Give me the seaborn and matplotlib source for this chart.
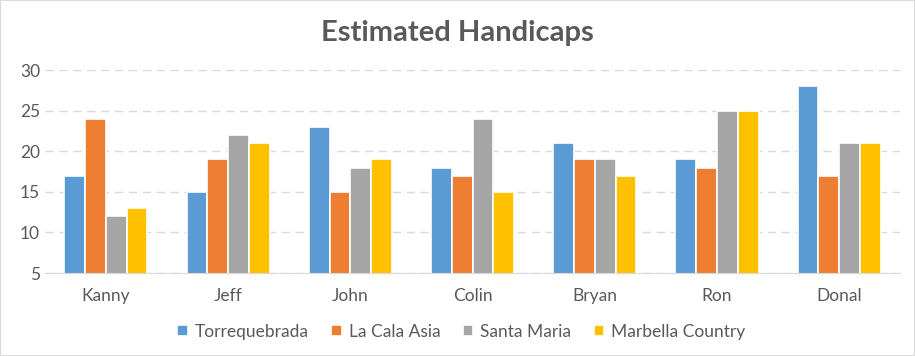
import matplotlib.pyplot as plt
import matplotlib
import seaborn as sns
import pandas as pd

players = ['Kanny', 'Jeff', 'John', 'Colin', 'Bryan', 'Ron', 'Donal']
courses = ['Torrequebrada', 'La Cala Asia', 'Santa Maria', 'Marbella Country']
torrequebrada = [17, 15, 23, 18, 21, 19, 28]
la_cala_asia = [24, 19, 15, 17, 19, 18, 17]
santa_maria = [12, 22, 18, 24, 19, 25, 21]
marbella_country = [13, 21, 19, 15, 17, 25, 21]

sns.set_style('white')
matplotlib.rc('font', family=['Lato', 'DejaVu Sans'], size=12)

rows = []
for course, vals in zip(courses, [torrequebrada, la_cala_asia, santa_maria, marbella_country]):
    for p, v in zip(players, vals):
        rows.append({'player': p, 'course': course, 'handicap': v})
df = pd.DataFrame(rows)

colors = ['#5B9BD5', '#ED7D31', '#A5A5A5', '#FFC000']
grey = '#595959'

fig = plt.figure(figsize=[9.15, 3.56], dpi=100)
ax = fig.add_axes([0.049, 0.233, 0.935, 0.570])

sns.barplot(data=df, x='player', y='handicap', hue='course', palette=colors,
            saturation=1, width=0.68, edgecolor='white', linewidth=1.2, ax=ax, legend=True)

ax.set_ylim(5, 30)
ax.set_yticks([5, 10, 15, 20, 25, 30])
ax.set(xlabel=None, ylabel=None)
ax.yaxis.grid(True, color='#D9D9D9', linestyle=(0, (6, 4)), linewidth=1)
ax.set_axisbelow(True)
for s in ['top', 'right', 'left']:
    ax.spines[s].set_visible(False)
ax.spines['bottom'].set_color('#D9D9D9')
ax.tick_params(axis='both', length=0, colors=grey, labelsize=12.5)
ax.tick_params(axis='x', pad=11)

fig.suptitle('Estimated Handicaps', x=0.5, y=0.945, fontsize=21, fontweight='bold', color=grey)

ax.legend(loc='center', bbox_to_anchor=(0.487, -0.29), ncol=4, frameon=False,
          handlelength=0.6, handleheight=0.6, columnspacing=1.3, handletextpad=0.4,
          labelcolor=grey, fontsize=12.5)

fig.patches.append(matplotlib.patches.Rectangle((0, 0), 1, 1, transform=fig.transFigure,
                                                fill=False, edgecolor='#D9D9D9', linewidth=1.5))

plt.savefig('out.png', dpi=100)
plt.close(fig)
